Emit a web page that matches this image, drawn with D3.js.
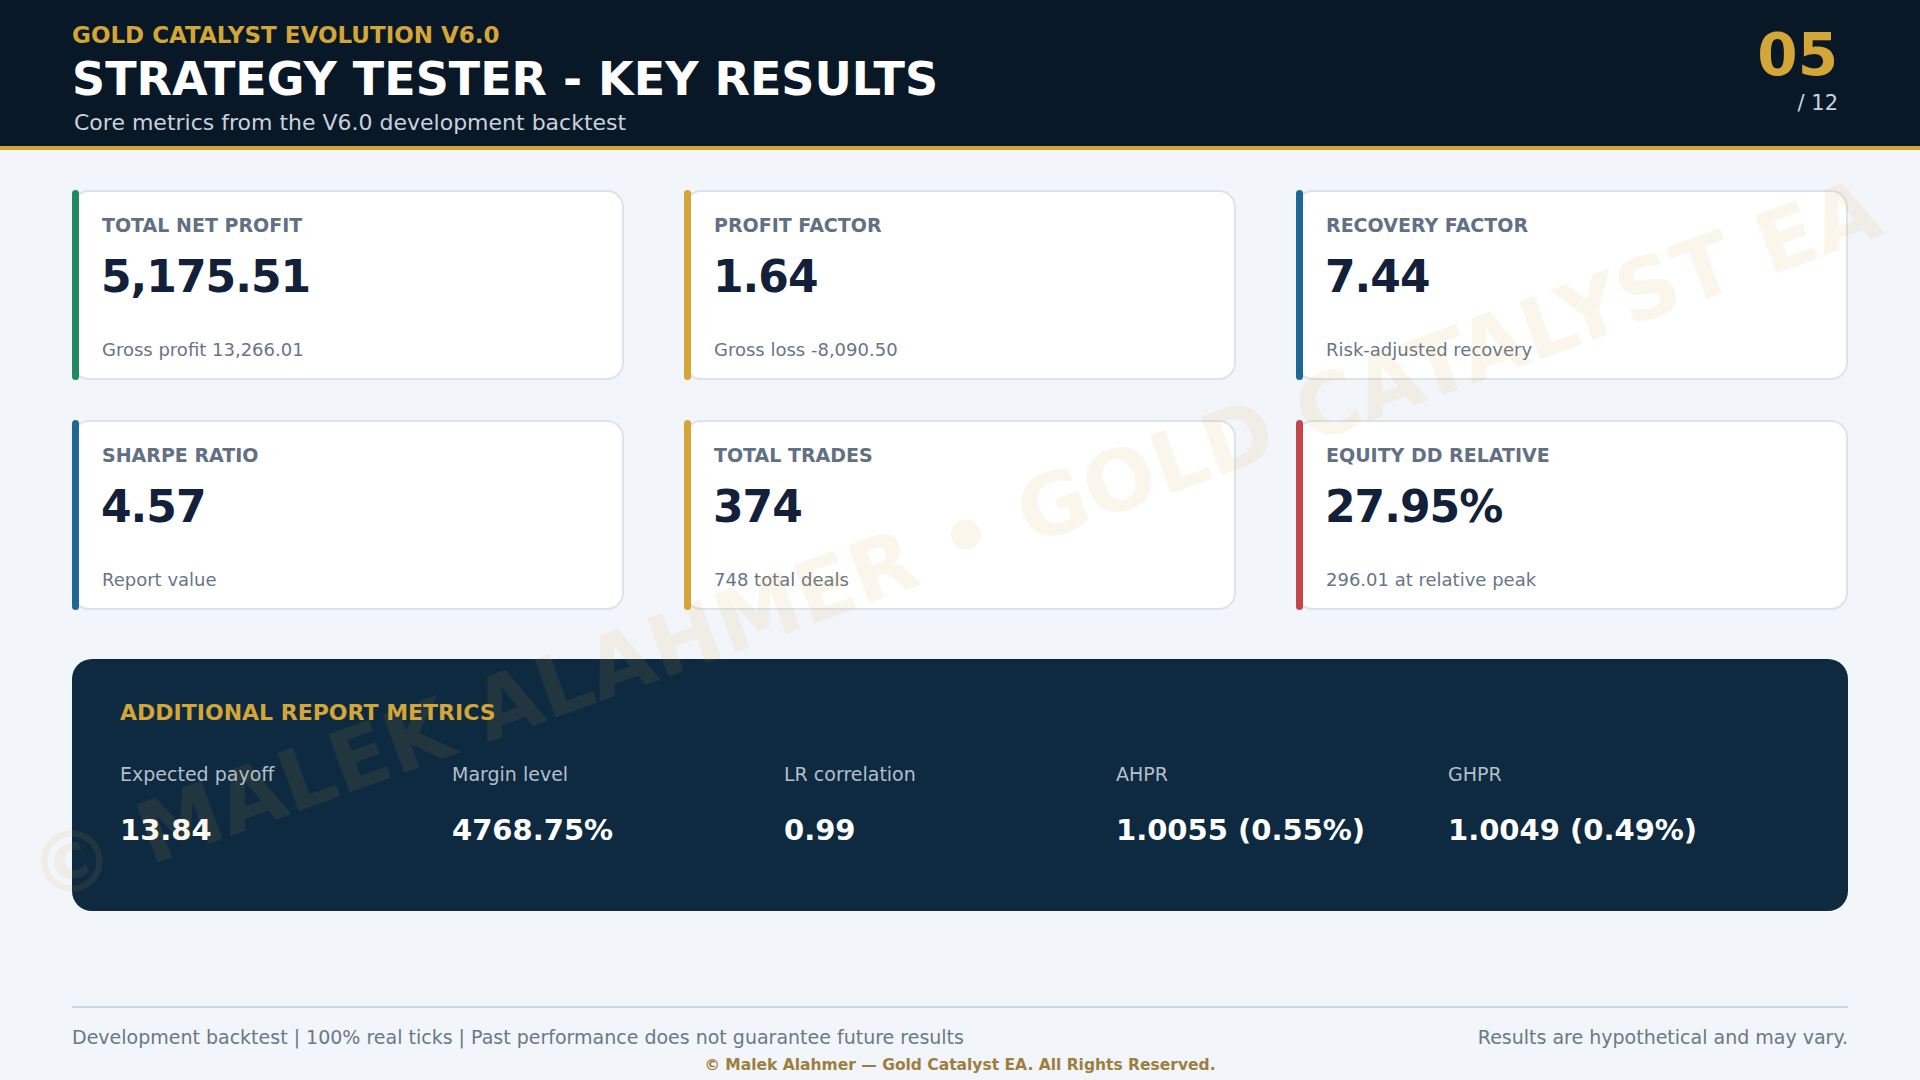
<!DOCTYPE html>
<html>
<head>
<meta charset="utf-8">
<script src="https://cdn.jsdelivr.net/npm/d3@7"></script>
<style>
  html, body { margin: 0; padding: 0; background: #f2f5f9; }
  svg { display: block; font-family: "DejaVu Sans", sans-serif; }
</style>
</head>
<body>
<svg id="slide" width="1920" height="1080"></svg>
<script>
// header texts
const kicker = "GOLD CATALYST EVOLUTION V6.0";
const title = "STRATEGY TESTER - KEY RESULTS";
const subtitle = "Core metrics from the V6.0 development backtest";
const pageNo = "05";
const pageTotal = "/ 12";

// key result cards
const cardLabels = ["TOTAL NET PROFIT", "PROFIT FACTOR", "RECOVERY FACTOR", "SHARPE RATIO", "TOTAL TRADES", "EQUITY DD RELATIVE"];
const cardValues = ["5,175.51", "1.64", "7.44", "4.57", "374", "27.95%"];
const cardNotes = ["Gross profit 13,266.01", "Gross loss -8,090.50", "Risk-adjusted recovery", "Report value", "748 total deals", "296.01 at relative peak"];
const cardAccents = ["#1e8a5f", "#d4a537", "#1f6796", "#1f6796", "#d4a537", "#c4454c"];

// extra metrics in the dark panel
const extraTitle = "ADDITIONAL REPORT METRICS";
const extraLabels = ["Expected payoff", "Margin level", "LR correlation", "AHPR", "GHPR"];
const extraValues = ["13.84", "4768.75%", "0.99", "1.0055 (0.55%)", "1.0049 (0.49%)"];

// footer
const footLeft = "Development backtest | 100% real ticks | Past performance does not guarantee future results";
const footRight = "Results are hypothetical and may vary.";
const copyright = "\u00a9 Malek Alahmer \u2014 Gold Catalyst EA. All Rights Reserved.";
const watermark = "\u00a9 MALEK ALAHMER \u2022 GOLD CATALYST EA";

const W = 1920, H = 1080;
const gold = "#d4a537";
const svg = d3.select("#slide");

svg.append("rect").attr("width", W).attr("height", H).attr("fill", "#f2f5f9");

// HEADER
svg.append("rect").attr("width", W).attr("height", 146).attr("fill", "#091827");
svg.append("rect").attr("y", 146).attr("width", W).attr("height", 4).attr("fill", gold);

svg.append("text").attr("x", 72).attr("y", 43)
	.attr("font-size", 23).attr("font-weight", "bold").attr("fill", gold)
	.text(kicker);
svg.append("text").attr("x", 72).attr("y", 95)
	.attr("font-size", 46).attr("font-weight", "bold").attr("fill", "#ffffff")
	.text(title);
svg.append("text").attr("x", 74).attr("y", 130)
	.attr("font-size", 22).attr("fill", "#c9d2dc")
	.text(subtitle);
svg.append("text").attr("x", 1838).attr("y", 75).attr("text-anchor", "end")
	.attr("font-size", 58).attr("font-weight", "bold").attr("fill", gold)
	.text(pageNo);
svg.append("text").attr("x", 1838).attr("y", 110).attr("text-anchor", "end")
	.attr("font-size", 21).attr("fill", "#c9d2dc")
	.text(pageTotal);

// CARDS - 3 columns x 2 rows
const cardW = 552, cardH = 190;
var colX = d3.scaleBand().domain([0, 1, 2]).range([72, 72 + 3 * cardW + 2 * 60]).paddingInner(60 / 612);
var rowY = d3.scaleBand().domain([0, 1]).range([190, 190 + 2 * cardH + 40]).paddingInner(40 / 230);

var cards = svg.append("g").attr("id", "cards")
	.selectAll("g")
	.data(cardLabels.map((d, i) => ({ label: d, value: cardValues[i], note: cardNotes[i], accent: cardAccents[i], i: i })))
	.join("g")
	.attr("transform", d => "translate(" + colX(d.i % 3) + "," + rowY(Math.floor(d.i / 3)) + ")");

cards.append("rect")
	.attr("x", 1).attr("y", 1)
	.attr("width", colX.bandwidth() - 2).attr("height", rowY.bandwidth() - 2)
	.attr("rx", 16)
	.attr("fill", "#ffffff").attr("stroke", "#dde3eb").attr("stroke-width", 2);

// left accent bar
cards.append("rect")
	.attr("x", 0).attr("y", 0)
	.attr("width", 7).attr("height", rowY.bandwidth())
	.attr("rx", 3.5)
	.attr("fill", d => d.accent);

cards.append("text").attr("x", 30).attr("y", 42)
	.attr("font-size", 19).attr("font-weight", "bold").attr("fill", "#627083")
	.text(d => d.label);
cards.append("text").attr("x", 29).attr("y", 102)
	.attr("font-size", 44).attr("font-weight", "bold").attr("fill", "#13203a")
	.attr("letter-spacing", -1)
	.text(d => d.value);
cards.append("text").attr("x", 30).attr("y", 166)
	.attr("font-size", 18).attr("fill", "#687587")
	.text(d => d.note);

// ADDITIONAL METRICS PANEL
var panel = svg.append("g").attr("id", "panel").attr("transform", "translate(72,659)");
panel.append("rect").attr("width", 1776).attr("height", 252).attr("rx", 20).attr("fill", "#0e2a40");
panel.append("text").attr("x", 48).attr("y", 61)
	.attr("font-size", 22).attr("font-weight", "bold").attr("fill", gold)
	.text(extraTitle);

var metricX = d3.scaleLinear().domain([0, 1]).range([48, 48 + 332]);
var metrics = panel.selectAll("g.metric")
	.data(extraLabels.map((d, i) => ({ label: d, value: extraValues[i], i: i })))
	.join("g").attr("class", "metric")
	.attr("transform", d => "translate(" + metricX(d.i) + ",0)");
metrics.append("text").attr("y", 122)
	.attr("font-size", 19).attr("fill", "#b4bfca")
	.text(d => d.label);
metrics.append("text").attr("y", 181)
	.attr("font-size", 29).attr("font-weight", "bold").attr("fill", "#ffffff")
	.text(d => d.value);

// FOOTER
svg.append("rect").attr("x", 72).attr("y", 1006).attr("width", 1776).attr("height", 2).attr("fill", "#cdd5df");
svg.append("text").attr("x", 72).attr("y", 1044)
	.attr("font-size", 19).attr("fill", "#6b7888")
	.text(footLeft);
svg.append("text").attr("x", 1848).attr("y", 1044).attr("text-anchor", "end")
	.attr("font-size", 19).attr("fill", "#6b7888")
	.text(footRight);
svg.append("text").attr("x", 960).attr("y", 1070).attr("text-anchor", "middle")
	.attr("font-size", 15.5).attr("font-weight", "bold").attr("fill", "#9c7f3f")
	.text(copyright);

// WATERMARK on top
svg.append("text")
	.attr("transform", "translate(964,569) rotate(-20)")
	.attr("text-anchor", "middle")
	.attr("font-size", 85).attr("font-weight", "bold")
	.attr("fill", gold).attr("fill-opacity", 0.1)
	.attr("pointer-events", "none")
	.text(watermark);
</script>
</body>
</html>
